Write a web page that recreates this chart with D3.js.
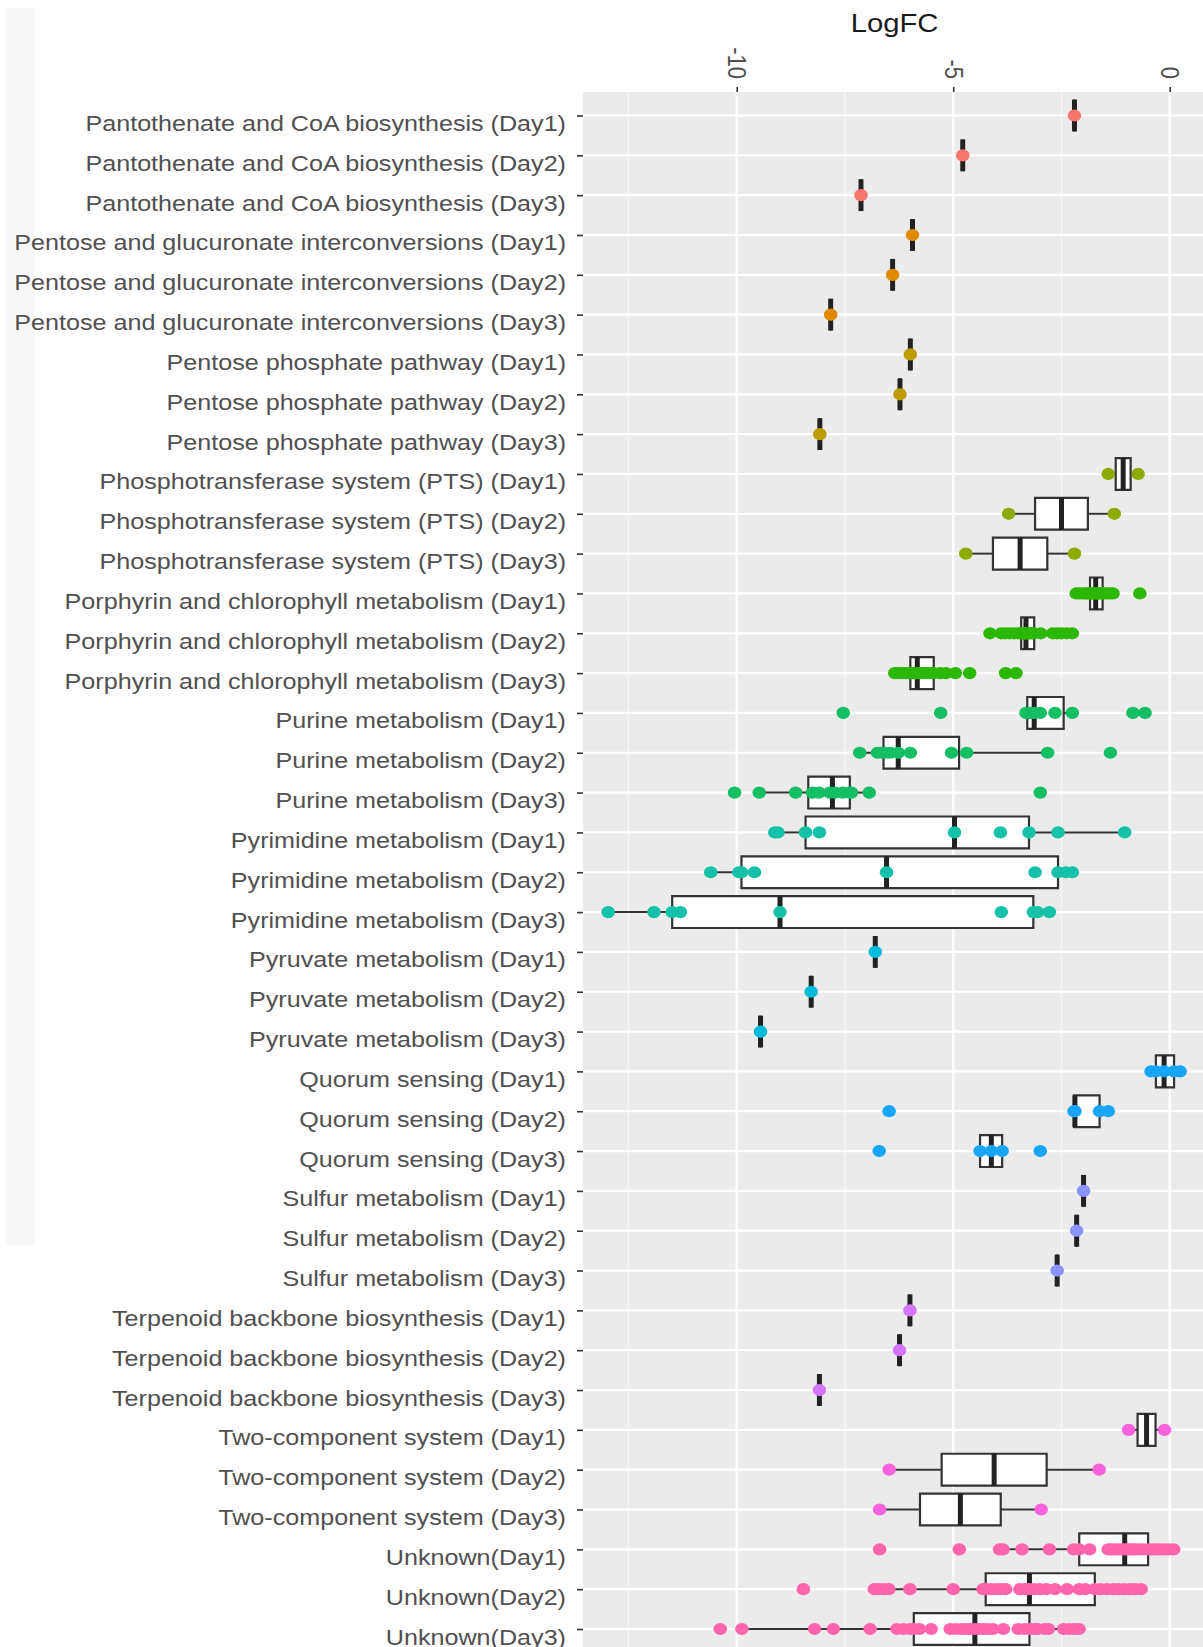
<!DOCTYPE html>
<html>
<head>
<meta charset="utf-8">
<script src="https://cdnjs.cloudflare.com/ajax/libs/d3/7.8.5/d3.min.js"></script>
<style>
  body { margin: 0; background: #fff; }
  text { font-family: 'Liberation Sans', Arial, sans-serif; }
</style>
</head>
<body>
<svg id="chart"></svg>
<script>
var pathways = ['Pantothenate and CoA biosynthesis', 'Pentose and glucuronate interconversions',
    'Pentose phosphate pathway', 'Phosphotransferase system (PTS)', 'Porphyrin and chlorophyll metabolism',
    'Purine metabolism', 'Pyrimidine metabolism', 'Pyruvate metabolism', 'Quorum sensing',
    'Sulfur metabolism', 'Terpenoid backbone biosynthesis', 'Two-component system', 'Unknown'];
var palette = ['#F8766D', '#E18A00', '#BE9C00', '#8CAB00', '#2CB700', '#14BE62', '#16C1A9',
    '#00BBDA', '#18A6FC', '#8B93FF', '#D575FE', '#F962DD', '#FF65AC'];
var days = ['Day1', 'Day2', 'Day3'];
var xTicks = [-10, -5, 0];
var xMinor = [-12.5, -7.5, -2.5];

// one list of LogFC values per row, in row order (pathway x day)
var rowValues = [
    [-2.2], [-4.78], [-7.13],
    [-5.94], [-6.4], [-7.83],
    [-5.99], [-6.23], [-8.08],
    [-1.42, -0.73], [-3.72, -1.28], [-4.71, -2.2],
    [-2.16, -2.08, -2.0, -1.95, -1.9, -1.84, -1.83, -1.8, -1.77, -1.74, -1.71, -1.68, -1.65, -1.62, -1.58, -1.55, -1.52, -1.45, -1.38, -1.31, -0.69],
    [-4.15, -3.89, -3.8, -3.7, -3.6, -3.5, -3.43, -3.41, -3.39, -3.37, -3.35, -3.34, -3.32, -3.3, -3.27, -3.24, -3.2, -3.16, -3.13, -2.98, -2.7, -2.6, -2.5, -2.38, -2.25],
    [-6.35, -6.3, -6.25, -6.18, -6.1, -6.05, -5.99, -5.96, -5.93, -5.9, -5.87, -5.85, -5.83, -5.78, -5.72, -5.65, -5.58, -5.5, -5.45, -5.3, -5.17, -4.95, -4.62, -3.79, -3.55],
    [-7.54, -5.29, -3.32, -3.26, -3.2, -3.13, -2.99, -2.65, -2.25, -0.85, -0.57],
    [-7.16, -6.75, -6.65, -6.57, -6.45, -6.27, -5.99, -5.04, -4.69, -2.82, -1.37],
    [-10.05, -9.48, -8.64, -8.25, -8.1, -7.85, -7.73, -7.55, -7.4, -7.35, -6.94, -2.99],
    [-9.12, -9.05, -8.41, -8.09, -4.97, -3.91, -3.25, -2.58, -1.04],
    [-10.6, -9.95, -9.89, -9.59, -6.54, -3.11, -2.58, -2.4, -2.25],
    [-12.97, -11.91, -11.49, -11.3, -9.0, -3.89, -3.15, -3.05, -2.78],
    [-6.8], [-8.28], [-9.45],
    [-0.43, -0.32, -0.13, 0.1, 0.24],
    [-6.48, -2.21, -2.19, -1.62, -1.42],
    [-6.71, -4.38, -4.12, -3.87, -2.99],
    [-1.99], [-2.15], [-2.6],
    [-6.0], [-6.24], [-8.09],
    [-0.95, -0.12], [-6.48, -1.63], [-6.7, -2.97],
    [-6.7, -4.86, -3.93, -3.85, -3.41, -2.78, -2.22, -2.09, -1.85, -1.42, -1.35, -1.28, -1.2, -1.12, -1.04, -0.98, -0.92, -0.86, -0.8, -0.72, -0.62, -0.5, -0.42, -0.35, -0.28, -0.2, -0.1, -0.02, 0.09],
    [-8.46, -6.82, -6.72, -6.6, -6.49, -6.0, -5.0, -4.31, -4.25, -4.12, -4.0, -3.9, -3.79, -3.46, -3.35, -3.28, -3.24, -3.13, -3.0, -2.85, -2.65, -2.37, -2.09, -1.95, -1.73, -1.6, -1.45, -1.3, -1.18, -1.05, -0.92, -0.8, -0.66],
    [-10.38, -9.88, -8.2, -7.77, -6.92, -6.3, -6.15, -6.0, -5.91, -5.78, -5.51, -5.07, -4.95, -4.82, -4.7, -4.6, -4.5, -4.4, -4.3, -4.2, -4.08, -3.84, -3.5, -3.36, -3.24, -3.13, -3.05, -2.89, -2.8, -2.45, -2.32, -2.2, -2.09]
];

var W = 1203, H = 1647;
var panel = { left: 583, top: 92, right: 1210 };
var stretch = 1.17; // the picture is widened horizontally

var rows = [];
pathways.forEach(function (p, i) {
    days.forEach(function (d, j) {
        var label = p === 'Unknown' ? p + '(' + d + ')' : p + ' (' + d + ')';
        var v = rowValues[i * 3 + j].slice().sort(d3.ascending);
        var q1 = d3.quantileSorted(v, 0.25), med = d3.quantileSorted(v, 0.5), q3 = d3.quantileSorted(v, 0.75);
        var iqr = q3 - q1;
        var lo = d3.min(v.filter(function (e) { return e >= q1 - 1.5 * iqr; }));
        var hi = d3.max(v.filter(function (e) { return e <= q3 + 1.5 * iqr; }));
        rows.push({ label: label, group: p, values: v, q1: q1, med: med, q3: q3, lo: lo, hi: hi });
    });
});

var svg = d3.select('#chart').attr('width', W).attr('height', H);

var x = d3.scaleLinear().domain([-13.55, 0.93]).range([panel.left, panel.right]);
var y = d3.scalePoint().domain(rows.map(function (r) { return r.label; })).range([115.5, 1629]);
var color = d3.scaleOrdinal().domain(pathways).range(palette);
var half = y.step() * 0.4;

// faint strip at the left edge of the picture
svg.append('rect').attr('x', 6).attr('y', 8).attr('width', 29).attr('height', 1238).attr('fill', '#f8f8f8');

// panel background and grid
svg.append('rect')
    .attr('x', panel.left).attr('y', panel.top)
    .attr('width', panel.right - panel.left).attr('height', H - panel.top)
    .attr('fill', '#ebebeb');

svg.selectAll('.minor').data(xMinor).enter().append('line')
    .attr('x1', x).attr('x2', x).attr('y1', panel.top).attr('y2', H)
    .attr('stroke', '#f7f7f7').attr('stroke-width', 1.3);
svg.selectAll('.vmajor').data(xTicks).enter().append('line')
    .attr('x1', x).attr('x2', x).attr('y1', panel.top).attr('y2', H)
    .attr('stroke', '#fff').attr('stroke-width', 2.4);
svg.selectAll('.hmajor').data(rows).enter().append('line')
    .attr('x1', panel.left).attr('x2', panel.right)
    .attr('y1', function (d) { return y(d.label); }).attr('y2', function (d) { return y(d.label); })
    .attr('stroke', '#fff').attr('stroke-width', 2.2);

// boxplots
var box = svg.selectAll('.box').data(rows).enter().append('g')
    .attr('class', 'box')
    .attr('transform', function (d) { return 'translate(0,' + y(d.label) + ')'; });

box.append('line')
    .attr('x1', function (d) { return x(d.lo); }).attr('x2', function (d) { return x(d.q1); })
    .attr('stroke', '#333').attr('stroke-width', 2);
box.append('line')
    .attr('x1', function (d) { return x(d.q3); }).attr('x2', function (d) { return x(d.hi); })
    .attr('stroke', '#333').attr('stroke-width', 2);
box.append('path')
    .attr('d', function (d) {
        return 'M' + x(d.q1) + ',' + (-half) + 'H' + x(d.q3) + 'V' + half + 'H' + x(d.q1) + 'Z';
    })
    .attr('fill', '#fff').attr('stroke', '#333').attr('stroke-width', 2.2);
box.append('line')
    .attr('x1', function (d) { return x(d.med); }).attr('x2', function (d) { return x(d.med); })
    .attr('y1', -half).attr('y2', half)
    .attr('stroke', '#222').attr('stroke-width', 5);

// points
box.each(function (d) {
    d3.select(this).selectAll('ellipse').data(d.values).enter().append('ellipse')
        .attr('cx', function (v) { return x(v); })
        .attr('cy', 0)
        .attr('rx', 6.8).attr('ry', 6.1)
        .attr('fill', color(d.group));
});

// y axis
var yAxis = d3.axisLeft(y).tickSize(6).tickSizeOuter(0);
var gy = svg.append('g')
    .attr('transform', 'translate(' + panel.left + ',0)')
    .call(yAxis);
gy.select('.domain').remove();
gy.selectAll('line').attr('stroke', '#333').attr('stroke-width', 1.6);
gy.selectAll('text')
    .attr('x', null).attr('dy', null)
    .attr('transform', 'translate(-17,15) scale(' + stretch + ',1)')
    .attr('text-anchor', 'end')
    .attr('font-size', 21.5)
    .attr('font-family', "'Liberation Sans', Arial, sans-serif")
    .attr('fill', '#505050');

// x axis on top
var xAxis = d3.axisTop(x).tickValues(xTicks).tickSize(5).tickSizeOuter(0)
    .tickFormat(function (d) { return String(d); });
var gx = svg.append('g')
    .attr('transform', 'translate(0,' + panel.top + ')')
    .call(xAxis);
gx.select('.domain').remove();
gx.selectAll('line').attr('stroke', '#333').attr('stroke-width', 1.6);
gx.selectAll('text')
    .attr('y', null).attr('dy', '0.35em')
    .attr('transform', 'translate(0,-13) scale(' + stretch + ',1) rotate(90)')
    .attr('text-anchor', 'end')
    .attr('font-size', 22)
    .attr('font-family', "'Liberation Sans', Arial, sans-serif")
    .attr('fill', '#505050');

// axis title
svg.append('text')
    .attr('transform', 'translate(' + ((panel.left + panel.right) / 2 - 2) + ',32) scale(' + stretch + ',1)')
    .attr('text-anchor', 'middle')
    .attr('font-size', 25)
    .attr('fill', '#1a1a1a')
    .text('LogFC');
</script>
</body>
</html>
